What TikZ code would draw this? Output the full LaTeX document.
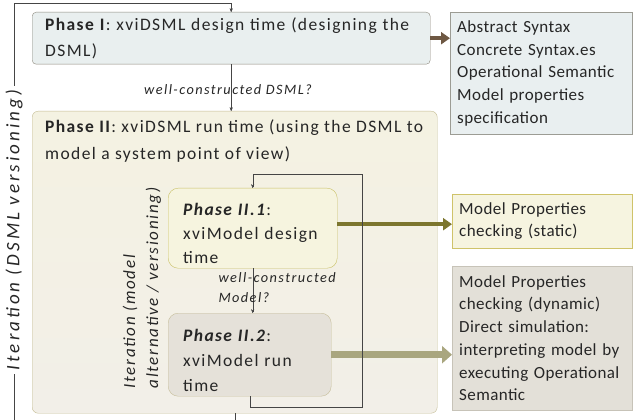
\documentclass[tikz,border=0pt]{standalone}
\usepackage{fontspec}
\setmainfont{Carlito}
\usepackage{tikz}
\usetikzlibrary{arrows,arrows.meta,positioning}
\definecolor{txtgray}{HTML}{262626}
\definecolor{linegray}{HTML}{454545}
\definecolor{oneFill}{HTML}{E9EFEF}
\definecolor{oneDraw}{HTML}{8E8A7E}
\definecolor{specFill}{HTML}{E9EFF0}
\definecolor{specDraw}{HTML}{9C9C94}
\definecolor{twoDraw}{HTML}{C4BC92}
\definecolor{twoTop}{HTML}{F4F2E2}
\definecolor{twoMid}{HTML}{D6D6D4}
\definecolor{twoBot}{HTML}{F2EFE8}
\definecolor{designFill}{HTML}{F6F4DF}
\definecolor{designDraw}{HTML}{C9C065}
\definecolor{runFill}{HTML}{E5E1D9}
\definecolor{runDraw}{HTML}{C6BE9A}
\definecolor{staticFill}{HTML}{F6F4E0}
\definecolor{staticDraw}{HTML}{CFC36A}
\definecolor{dynFill}{HTML}{E3E0D8}
\definecolor{dynDraw}{HTML}{C7C3B8}
\definecolor{brownArrow}{HTML}{6E5843}
\definecolor{oliveArrow}{HTML}{7C762E}
\definecolor{paleArrow}{HTML}{A9A67F}
\newcommand{\toppad}{\rule{0pt}{23pt}}
\tikzset{
    %Define standard arrow tip
    >=stealth',
    %Define style for phase boxes
    phase/.style={
           rectangle,
           rounded corners=4pt,
           draw, thin,
           inner xsep=13pt,
           align=left,
           text=txtgray,
           anchor=north west,
           font=\fontsize{17.5}{26}\selectfont\addfontfeature{LetterSpace=8}},
    % Define style for result boxes
    result/.style={
           rectangle,
           draw, thin,
           inner xsep=7pt,
           text width=166pt,
           align=left,
           text=txtgray,
           anchor=north west,
           font=\fontsize{17}{22.7}\selectfont\addfontfeature{LetterSpace=2.5}},
    % Define loop line style
    loop/.style={
           ->,
           draw=linegray,
           thin},
    % Define thick arrow style
    pil/.style={
           -{Triangle[length=9pt,width=12pt]},
           line width=4pt},
    % Define question labels
    question/.style={
           font=\itshape\fontsize{14.3}{20}\selectfont\addfontfeature{LetterSpace=10},
           text=txtgray,
           align=left},
    iteration/.style={
           font=\itshape\fontsize{17}{23}\selectfont\addfontfeature{LetterSpace=10},
           text=txtgray,
           align=left,
           rotate=90}
}

\begin{document}
\begin{tikzpicture}[x=1pt,y=-1pt]
  \useasboundingbox[fill=white] (0,0) rectangle (633,420);
  % phases
  \node[phase, fill=oneFill, draw=oneDraw, text width=372pt, minimum height=52pt] (phase1) at (32,12)
    {\textbf{Phase I}: xviDSML design time (designing the\\DSML)};
  \node[phase, draw=twoDraw, rounded corners=6pt, shading=axis, top color=twoTop, middle color=twoMid,
        bottom color=twoBot, minimum width=405pt, minimum height=302pt] (phase2) at (32,111) {};
  \node[phase, inner sep=0pt, rounded corners=0pt, draw=none, font=\fontsize{17.5}{27}\selectfont\addfontfeature{LetterSpace=8}] (phase2txt) at (45,120)
    {\textbf{Phase II}: xviDSML run time (using the DSML to\\model a system point of view)};
  \node[phase, fill=designFill, draw=designDraw, rounded corners=10pt, inner xsep=15pt, text width=139pt,
        minimum height=80pt, font=\fontsize{17.5}{24}\selectfont\addfontfeature{LetterSpace=8}] (phase21) at (168,188)
    {\toppad\textbf{\textit{Phase II.1}}:\\xviModel design\\time};
  \node[phase, fill=runFill, draw=runDraw, rounded corners=10pt, inner xsep=15pt, text width=133pt,
        minimum height=83pt, font=\fontsize{17.5}{25}\selectfont\addfontfeature{LetterSpace=8}] (phase22) at (168,313)
    {\toppad\textbf{\textit{Phase II.2}}:\\xviModel run\\time};
  % results
  \node[result, fill=specFill, draw=specDraw, text width=168pt, minimum height=122pt] (spec) at (450,12)
    {Abstract Syntax\\Concrete Syntax.es\\Operational Semantic\\Model properties\\specification};
  \node[result, fill=staticFill, draw=staticDraw, minimum height=54pt] (static) at (452,194)
    {Model Properties\\checking (static)};
  \node[result, fill=dynFill, draw=dynDraw, minimum height=144pt] (dynamic) at (452,266)
    {Model Properties\\checking (dynamic)\\Direct simulation:\\interpreting model by\\executing Operational\\Semantic};
  % thick arrows
  \draw[pil, brownArrow] (phase1.east) -- (phase1.east -| spec.west);
  \draw[pil, oliveArrow] ([yshift=4pt]phase21.east) -- ([yshift=4pt]phase21.east -| static.west);
  \draw[pil, paleArrow, line width=7pt, -{Triangle[length=10pt,width=17pt]}] (phase22.east) -- (phase22.east -| dynamic.west);
  % transitions
  \draw[loop] (phase1.south) -- (phase1.south |- phase2.north);
  \node[question] (okdsml) at (228,90) {well-constructed DSML?};
  \draw[loop] (phase21.south) -- (phase21.south |- phase22.north);
  \node[question, anchor=west] (okmodel) at (215,288) {well-constructed\\Model?};
  % inner iteration
  \coordinate (innerse) at (362,407);
  \coordinate (innerne) at (362,174);
  \draw[loop] (phase22.south) |- (innerse) -- (innerne) -| (phase21.north);
  \node[iteration] (itermodel) at (142,288) {Iteration (model\\alternative / versioning)};
  % outer iteration
  \coordinate (outerbl) at (14,433);
  \coordinate (outertl) at (14,3);
  \draw[loop] (phase2.south) -- (phase2.south |- outerbl) -- (outerbl) -- (outertl) -| (phase1.north);
  \node[iteration, fill=white, inner sep=4pt, font=\itshape\fontsize{19}{23}\selectfont\addfontfeature{LetterSpace=16}] (iterdsml) at (14,230) {Iteration (DSML versioning)};
\end{tikzpicture}
\end{document}
